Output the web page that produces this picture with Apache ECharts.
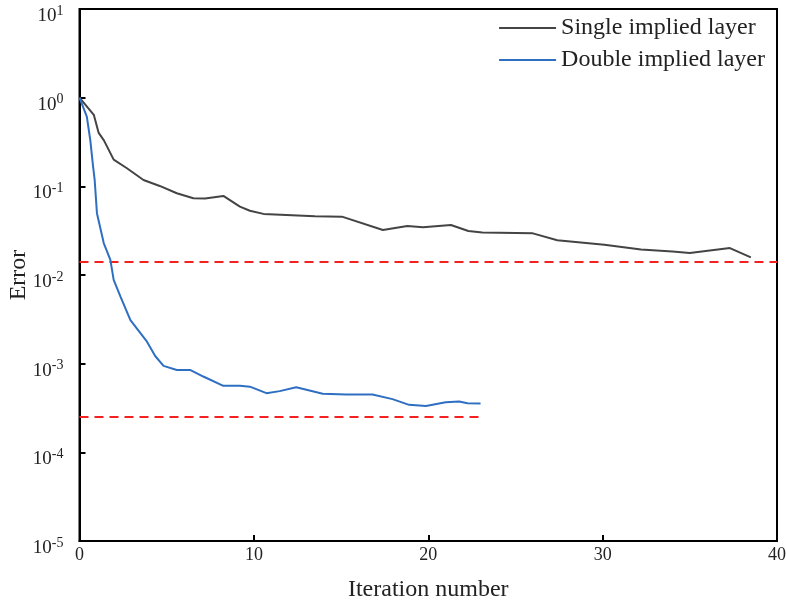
<!DOCTYPE html>
<html>
<head>
<meta charset="utf-8">
<script src="https://cdn.jsdelivr.net/npm/echarts@6/dist/echarts.min.js"></script>
<style>
  html, body { margin: 0; padding: 0; background: #fff; }
  #chart { width: 786px; height: 607px; }
</style>
</head>
<body>
<div id="chart"></div>
<script>
// 单隐层 / 双隐层 误差曲线
const singleX = [0, 0.82, 1.1, 1.4, 1.96, 2.72, 3.67, 4.6, 5.58, 6.53, 7.2, 8.25, 9.2, 9.77, 10.55, 13.5, 15.05, 17.4, 18.8, 19.7, 21.3, 22.3, 23.1, 26.0, 27.4, 30.1, 32.2, 34.0, 35.0, 37.3, 38.5];
const singleY = [1.0, 0.64, 0.40, 0.33, 0.20, 0.16, 0.118, 0.101, 0.0836, 0.0734, 0.073, 0.078, 0.059, 0.053, 0.0489, 0.0459, 0.0455, 0.0322, 0.0358, 0.0346, 0.0367, 0.0313, 0.0302, 0.0295, 0.0247, 0.022, 0.0194, 0.0184, 0.0177, 0.0201, 0.0158];
const doubleX = [0, 0.42, 0.62, 0.78, 0.87, 1.0, 1.39, 1.77, 1.96, 2.35, 2.92, 3.87, 4.34, 4.82, 5.58, 6.34, 7.1, 8.25, 9.2, 9.77, 10.72, 11.48, 12.43, 13.95, 15.3, 16.8, 17.95, 18.9, 19.87, 21.0, 21.77, 22.25, 23.0];
const doubleY = [1.0, 0.61, 0.33, 0.167, 0.118, 0.0498, 0.0229, 0.0148, 0.0088, 0.0057, 0.0031, 0.00177, 0.00122, 0.000944, 0.00085, 0.00085, 0.000716, 0.000562, 0.000562, 0.00055, 0.000465, 0.00049, 0.000543, 0.000457, 0.00045, 0.00045, 0.000398, 0.000343, 0.000333, 0.000368, 0.000375, 0.000357, 0.000355];
// 红色虚线（目标误差）
const targetSingle = 0.014;
const targetDouble = 0.00025;
const targetSingleEnd = 40;
const targetDoubleEnd = 23;
const seriesNames = ['Single implied layer', 'Double implied layer'];
const xTicks = [0, 10, 20, 30, 40];

const font = '"Liberation Serif", "Times New Roman", serif';
const zip = (xs, ys) => xs.map((x, i) => [x, ys[i]]);

const chart = echarts.init(document.getElementById('chart'));
chart.setOption({
  animation: false,
  backgroundColor: '#fff',
  textStyle: { fontFamily: font },
  grid: {
    left: 79.5, top: 9, right: 9, bottom: 66,
    outerBoundsMode: 'none',
    containLabel: false,
    show: true, borderColor: '#000', borderWidth: 2
  },
  legend: {
    data: seriesNames,
    orient: 'vertical',
    right: 16,
    top: 11,
    icon: 'rect',
    itemWidth: 57,
    itemHeight: 2,
    itemGap: 8,
    textStyle: { fontFamily: font, fontSize: 24, color: '#222' }
  },
  xAxis: {
    type: 'value',
    min: xTicks[0],
    max: xTicks[xTicks.length - 1],
    interval: 10,
    name: 'Iteration number',
    nameLocation: 'middle',
    nameGap: 37,
    nameMoveOverlap: false,
    nameTextStyle: { fontFamily: font, fontSize: 24, color: '#222' },
    axisLine: { show: true, lineStyle: { color: '#000', width: 2 } },
    axisTick: { show: true, inside: true, length: 6, lineStyle: { color: '#000', width: 2 } },
    axisLabel: { fontFamily: font, fontSize: 18, color: '#222', margin: 5 },
    splitLine: { show: false }
  },
  yAxis: {
    type: 'log',
    logBase: 10,
    min: 1e-5,
    max: 10,
    name: 'Error',
    nameLocation: 'middle',
    nameGap: 49,
    nameRotate: 90,
    nameMoveOverlap: false,
    nameTextStyle: { fontFamily: font, fontSize: 24, color: '#222' },
    axisLine: { show: true, lineStyle: { color: '#000', width: 2 } },
    axisTick: { show: true, inside: true, length: 6, lineStyle: { color: '#000', width: 2 } },
    minorTick: { show: false },
    splitLine: { show: false },
    axisLabel: {
      margin: 16,
      padding: [14, 0, 0, 0],
      formatter: function (v) {
        const e = Math.round(Math.log10(v));
        return '{b|10}{s|' + e + '}';
      },
      rich: {
        b: { fontFamily: font, fontSize: 19, color: '#222', lineHeight: 22 },
        s: { fontFamily: font, fontSize: 14, color: '#222', padding: [0, 0, 10, 0] }
      }
    }
  },
  series: [
    {
      name: seriesNames[0],
      type: 'line',
      symbol: 'none',
      data: zip(singleX, singleY),
      lineStyle: { color: '#444', width: 2 },
      itemStyle: { color: '#444' },
      z: 3
    },
    {
      name: seriesNames[1],
      type: 'line',
      symbol: 'none',
      data: zip(doubleX, doubleY),
      lineStyle: { color: '#2f6fc2', width: 2 },
      itemStyle: { color: '#2f6fc2' },
      z: 3
    },
    {
      name: 'target1',
      type: 'line',
      symbol: 'none',
      data: [[0, targetSingle], [targetSingleEnd, targetSingle]],
      lineStyle: { color: '#f52020', width: 2, type: [9, 6] },
      z: 2
    },
    {
      name: 'target2',
      type: 'line',
      symbol: 'none',
      data: [[0, targetDouble], [targetDoubleEnd, targetDouble]],
      lineStyle: { color: '#f52020', width: 2, type: [9, 6] },
      z: 2
    }
  ]
});
</script>
</body>
</html>
